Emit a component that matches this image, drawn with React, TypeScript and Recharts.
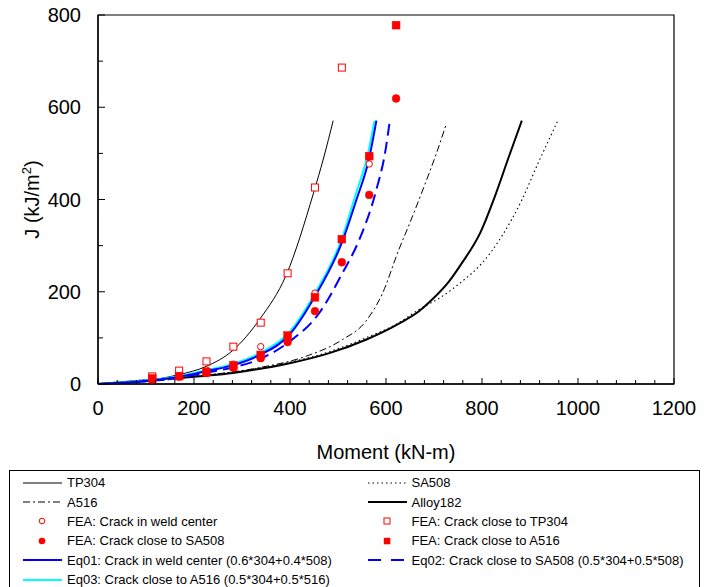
import React from "react";
import { ComposedChart, Line, Scatter, XAxis, YAxis, ReferenceArea } from "recharts";

// Moment (kN-m) / J (kJ/m2)
const tp304Moment = [0, 56, 113, 168, 225, 281, 338, 392, 449, 470, 490];
const tp304J = [0, 2, 9, 20, 38, 73, 142, 236, 414, 490, 571];

const sa508Moment = [0, 122, 281, 399, 482, 558, 627, 668, 717, 758, 800, 841, 883, 917, 958];
const sa508J = [0, 11, 26, 47, 70, 100, 133, 161, 190, 222, 262, 320, 399, 479, 571];

const a516Moment = [0, 113, 226, 339, 433, 509, 558, 592, 627, 648, 680, 705, 726];
const a516J = [0, 6, 19, 36, 60, 96, 136, 195, 292, 345, 430, 500, 565];

const alloyMoment = [0, 122, 281, 399, 482, 558, 627, 668, 696, 731, 758, 796, 828, 855, 883];
const alloyJ = [0, 10, 24, 45, 67, 96, 131, 157, 183, 222, 262, 327, 410, 490, 571];

const eq01Moment = [0, 113, 170, 226, 282, 339, 399, 452, 509, 537, 565, 580];
const eq01J = [0, 8, 16, 28, 41, 64, 107, 190, 309, 395, 490, 571];

const eq03Moment = [0, 113, 170, 226, 282, 339, 399, 452, 509, 535, 563, 576];
const eq03J = [0, 9, 17, 30, 44, 68, 113, 197, 318, 405, 502, 571];

const eq02Moment = [0, 113, 170, 226, 282, 339, 399, 461, 509, 544, 578, 599, 608];
const eq02J = [0, 7, 14, 25, 36, 55, 92, 154, 240, 312, 414, 507, 571];

// FEA load steps
const feaMoment = [113, 169, 226, 282, 339, 395, 452, 508, 565, 621];
const feaWeldCenter = [13, 20, 30, 43, 81, 102, 197, 313, 477];
const feaTP304 = [16.5, 29, 49, 81, 133, 240, 426, 686];
const feaSA508 = [10, 16, 24, 35, 56, 91, 158, 264, 410, 619];
const feaA516 = [12, 17, 26, 40, 63, 105, 188, 314, 494, 778];

const xTicks = [
  0, 40, 80, 120, 160, 200, 240, 280, 320, 360, 400, 440, 480, 520, 560, 600,
  640, 680, 720, 760, 800, 840, 880, 920, 960, 1000, 1040, 1080, 1120, 1160, 1200,
];
const yTicks = [0, 100, 200, 300, 400, 500, 600, 700, 800];

const FONT = "'Liberation Sans', Arial, sans-serif";
const RED = "#ff0000";
const BLUE = "#0000ff";
const CYAN = "#00ffff";

const toRows = (ms: number[], js: number[]) => js.map((j, i) => ({ m: ms[i], j }));

const XTick = (props: any) => {
  const { x, y, payload } = props;
  const major = payload.value % 200 === 0;
  return (
    <g>
      <line x1={x} x2={x} y1={y} y2={y - (major ? 6 : 4)} stroke="#000" strokeWidth={1} />
      {major && (
        <text x={x} y={y + 31} textAnchor="middle" fontSize={20} fontFamily={FONT} fill="#000">
          {payload.value}
        </text>
      )}
    </g>
  );
};

const YTick = (props: any) => {
  const { x, y, payload } = props;
  const major = payload.value % 200 === 0;
  return (
    <g>
      <line x1={x} x2={x + (major ? 7 : 5)} y1={y} y2={y} stroke="#000" strokeWidth={1} />
      {major && (
        <text x={x - 17} y={y} dy="0.35em" textAnchor="end" fontSize={20} fontFamily={FONT} fill="#000">
          {payload.value}
        </text>
      )}
    </g>
  );
};

const XTitle = (props: any) => {
  const { viewBox } = props;
  return (
    <text
      x={viewBox.x + viewBox.width / 2}
      y={viewBox.y + 75}
      textAnchor="middle"
      fontSize={20}
      fontFamily={FONT}
      fill="#000"
    >
      Moment (kN-m)
    </text>
  );
};

const YTitle = (props: any) => {
  const { viewBox } = props;
  const cx = 31;
  const cy = viewBox.y + viewBox.height / 2;
  return (
    <text
      x={cx}
      y={cy}
      transform={`rotate(-90 ${cx} ${cy})`}
      textAnchor="middle"
      fontSize={20}
      fontFamily={FONT}
      fill="#000"
    >
      J (kJ/m
      <tspan fontSize={13} dy={-8}>2</tspan>
      <tspan dy={8}>)</tspan>
    </text>
  );
};

const HollowCircle = (p: any) => <circle cx={p.cx} cy={p.cy} r={3.2} fill="#fff" stroke={RED} strokeWidth={1} />;
const FilledCircle = (p: any) => <circle cx={p.cx} cy={p.cy} r={3.9} fill={RED} stroke={RED} strokeWidth={0.5} />;
const HollowSquare = (p: any) => (
  <rect x={p.cx - 3.5} y={p.cy - 3.5} width={7} height={7} fill="#fff" stroke={RED} strokeWidth={1} />
);
const FilledSquare = (p: any) => (
  <rect x={p.cx - 3.9} y={p.cy - 3.9} width={7.8} height={7.8} fill={RED} stroke={RED} strokeWidth={0.5} />
);

type Sample =
  | { kind: "line"; stroke: string; width: number; dash?: string }
  | { kind: "marker"; shape: "hc" | "fc" | "hs" | "fs" };

const legendRows: [{ label: string; sample: Sample }, { label: string; sample: Sample } | null][] = [
  [
    { label: "TP304", sample: { kind: "line", stroke: "#000", width: 1 } },
    { label: "SA508", sample: { kind: "line", stroke: "#000", width: 1, dash: "1.5 3" } },
  ],
  [
    { label: "A516", sample: { kind: "line", stroke: "#000", width: 1, dash: "7 3 2 3" } },
    { label: "Alloy182", sample: { kind: "line", stroke: "#000", width: 2 } },
  ],
  [
    { label: "FEA: Crack in weld center", sample: { kind: "marker", shape: "hc" } },
    { label: "FEA: Crack close to TP304", sample: { kind: "marker", shape: "hs" } },
  ],
  [
    { label: "FEA: Crack close to SA508", sample: { kind: "marker", shape: "fc" } },
    { label: "FEA: Crack close to A516", sample: { kind: "marker", shape: "fs" } },
  ],
  [
    { label: "Eq01: Crack in weld center (0.6*304+0.4*508)", sample: { kind: "line", stroke: BLUE, width: 2 } },
    { label: "Eq02: Crack close to SA508 (0.5*304+0.5*508)", sample: { kind: "line", stroke: BLUE, width: 2, dash: "13 10" } },
  ],
  [{ label: "Eq03: Crack close to A516 (0.5*304+0.5*516)", sample: { kind: "line", stroke: CYAN, width: 2 } }, null],
];

const SampleIcon = ({ s }: { s: Sample }) => (
  <svg width={40} height={10} style={{ display: "block" }}>
    {s.kind === "line" ? (
      <line x1={0} x2={39} y1={5} y2={5} stroke={s.stroke} strokeWidth={s.width} strokeDasharray={s.dash} />
    ) : s.shape === "hc" ? (
      <circle cx={19} cy={5} r={2.8} fill="#fff" stroke={RED} strokeWidth={1} />
    ) : s.shape === "fc" ? (
      <circle cx={19} cy={5} r={3.3} fill={RED} />
    ) : s.shape === "hs" ? (
      <rect x={16} y={2} width={6} height={6} fill="#fff" stroke={RED} strokeWidth={1} />
    ) : (
      <rect x={15.8} y={1.8} width={6.5} height={6.5} fill={RED} />
    )}
  </svg>
);

const LegendCell = ({ item }: { item: { label: string; sample: Sample } | null }) => (
  <div style={{ display: "flex", alignItems: "center", width: 346, height: 19.4 }}>
    {item && (
      <>
        <div style={{ width: 13 }} />
        <SampleIcon s={item.sample} />
        <span style={{ marginLeft: 4, whiteSpace: "nowrap" }}>{item.label}</span>
      </>
    )}
  </div>
);

export default function App() {
  // pulled up over the body margin so the top tick label sits inside the svg
  return (
    <div
      style={{
        position: "relative",
        width: 704,
        height: 587,
        marginTop: -8,
        overflow: "hidden",
        fontFamily: FONT,
      }}
    >
      <ComposedChart width={704} height={587} margin={{ top: 15, right: 38, bottom: 163, left: 0 }}>
        <XAxis
          type="number"
          dataKey="m"
          domain={[0, 1200]}
          ticks={xTicks}
          interval={0}
          tickSize={0}
          tickMargin={0}
          tickLine={false}
          tick={<XTick />}
          axisLine={{ stroke: "#000", strokeWidth: 1.3 }}
          height={40}
          label={{ content: <XTitle /> }}
        />
        <YAxis
          type="number"
          dataKey="j"
          domain={[0, 800]}
          ticks={yTicks}
          interval={0}
          tickSize={0}
          tickMargin={0}
          tickLine={false}
          tick={<YTick />}
          axisLine={{ stroke: "#000", strokeWidth: 1.3 }}
          width={90}
          label={{ content: <YTitle /> }}
        />
        <ReferenceArea x1={0} x2={1200} y1={0} y2={800} fill="none" stroke="#000" strokeWidth={1.2} />

        <Line data={toRows(sa508Moment, sa508J)} dataKey="j" type="monotone" stroke="#000" strokeWidth={1.1} strokeDasharray="1.5 3" dot={false} isAnimationActive={false} />
        <Line data={toRows(alloyMoment, alloyJ)} dataKey="j" type="monotone" stroke="#000" strokeWidth={2} dot={false} isAnimationActive={false} />
        <Line data={toRows(a516Moment, a516J)} dataKey="j" type="monotone" stroke="#000" strokeWidth={1} strokeDasharray="7 3 2 3" dot={false} isAnimationActive={false} />
        <Line data={toRows(tp304Moment, tp304J)} dataKey="j" type="monotone" stroke="#000" strokeWidth={1} dot={false} isAnimationActive={false} />
        <Line data={toRows(eq03Moment, eq03J)} dataKey="j" type="monotone" stroke={CYAN} strokeWidth={2} dot={false} isAnimationActive={false} />
        <Line data={toRows(eq01Moment, eq01J)} dataKey="j" type="monotone" stroke={BLUE} strokeWidth={2} dot={false} isAnimationActive={false} />
        <Line data={toRows(eq02Moment, eq02J)} dataKey="j" type="monotone" stroke={BLUE} strokeWidth={2} strokeDasharray="12 6" dot={false} isAnimationActive={false} />

        <Scatter data={toRows(feaMoment, feaWeldCenter)} shape={<HollowCircle />} isAnimationActive={false} />
        <Scatter data={toRows(feaMoment, feaTP304)} shape={<HollowSquare />} isAnimationActive={false} />
        <Scatter data={toRows(feaMoment, feaSA508)} shape={<FilledCircle />} isAnimationActive={false} />
        <Scatter data={toRows(feaMoment, feaA516)} shape={<FilledSquare />} isAnimationActive={false} />
      </ComposedChart>

      <div
        style={{
          position: "absolute",
          left: 1,
          top: 470,
          width: 691,
          height: 140,
          border: "1px solid #000",
          boxSizing: "border-box",
          paddingTop: 2,
          fontSize: 13,
          color: "#000",
          background: "#fff",
        }}
      >
        {legendRows.map((row, i) => (
          <div key={i} style={{ display: "flex" }}>
            <LegendCell item={row[0]} />
            <LegendCell item={row[1]} />
          </div>
        ))}
      </div>
    </div>
  );
}
